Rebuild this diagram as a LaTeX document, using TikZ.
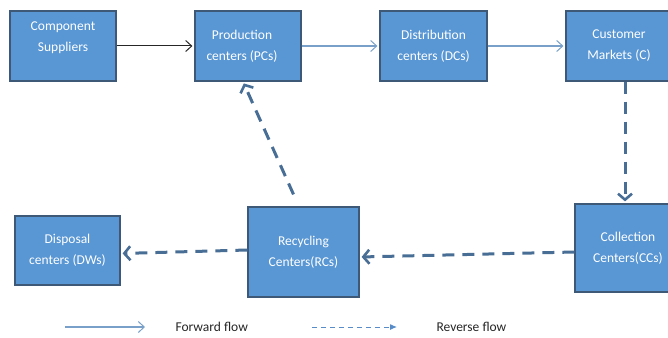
\documentclass[tikz,border=0pt]{standalone}
\usepackage{fontspec}
\setmainfont{Carlito}
\usetikzlibrary{positioning,calc,arrows.meta}

\definecolor{boxblue}{RGB}{88,150,212}
\definecolor{boxedge}{RGB}{62,88,120}
\definecolor{fwdblue}{RGB}{120,160,200}
\definecolor{revblue}{RGB}{72,110,150}
\definecolor{legblue}{RGB}{88,140,200}

\begin{document}
\begin{tikzpicture}
                    [x=1pt,y=-1pt,>={Straight Barb[length=6pt,width=11pt,line width=1pt]},
                     box/.style={draw=boxedge,fill=boxblue,line width=1.2pt,inner sep=0pt},
                     boxtext/.style={text=white,align=center,font=\fontsize{13.5}{21}\selectfont},
                     fwd/.style={->,fwdblue,line width=1.1pt,shorten >=2pt},
                     rev/.style={-{Straight Barb[length=6pt,width=14pt,line width=2.6pt]},revblue,
                                 line width=3pt,dash pattern=on 12pt off 8pt,line cap=butt,shorten >=2pt},
                     legtext/.style={font=\fontsize{13.5}{16}\selectfont,text=black!85}]

                \useasboundingbox (0,0) rectangle (668,337);

                % forward chain
                \node[box,minimum width=106,minimum height=70,
                      label={[boxtext,yshift=8pt]center:Component\\Suppliers}] (cs) at (63,46) {};
                \node[box,minimum width=106,minimum height=70,
                      label={[boxtext,xshift=-6pt]center:Production\\centers (PCs)}] (pc) at (248,46) {};
                \node[box,minimum width=107,minimum height=70,
                      label={[boxtext]center:Distribution\\centers (DCs)}] (dc) at (433.5,46) {};
                \node[box,minimum width=106,minimum height=70,
                      label={[boxtext]center:Customer\\Markets (C)}] (cm) at (619,46) {};

                % reverse chain
                \node[box,minimum width=105,minimum height=69,
                      label={[boxtext]center:Disposal\\centers (DWs)}] (dw) at (67.5,250.5) {};
                \node[box,minimum width=111,minimum height=90,
                      label={[boxtext]center:Recycling\\Centers(RCs)}] (rc) at (303.5,252) {};
                \node[box,minimum width=106,minimum height=88,
                      label={[boxtext]center:Collection\\Centers(CCs)}] (cc) at (628,248) {};

                \draw[->,black!85,line width=1pt,shorten >=2pt] (cs) -- (pc);
                \draw[fwd] (pc) -- (dc);
                \draw[fwd] (dc) -- (cm);

                \draw[rev] ([xshift=6pt]cm.south) -- ([xshift=-3pt]cc.north);
                \draw[rev] ([yshift=-4pt]cc.west) -- ([yshift=-5pt]rc.east);
                \draw[rev] ([yshift=2pt]rc.west) -- ([yshift=-3pt]dw.east);
                \coordinate (rcup) at ([shift={(-10pt,12pt)}]rc.north);
                \draw[rev] (rcup) -- ([xshift=-5pt]pc.south);

                % legend
                \coordinate (fa) at (65,327);
                \coordinate (fb) at (145,327);
                \draw[fwd,shorten >=0pt] (fa) -- (fb);
                \node[legtext,anchor=west] (fl) at (172,327) {Forward flow};
                \coordinate (ra) at (312,327);
                \coordinate (rb) at (397,327);
                \draw[-{Latex[length=7pt,width=6pt]},legblue,line width=1pt,dash pattern=on 5pt off 4pt] (ra) -- (rb);
                \node[legtext,anchor=west] (rl) at (433,327) {Reverse flow};

                \end{tikzpicture}
\end{document}
